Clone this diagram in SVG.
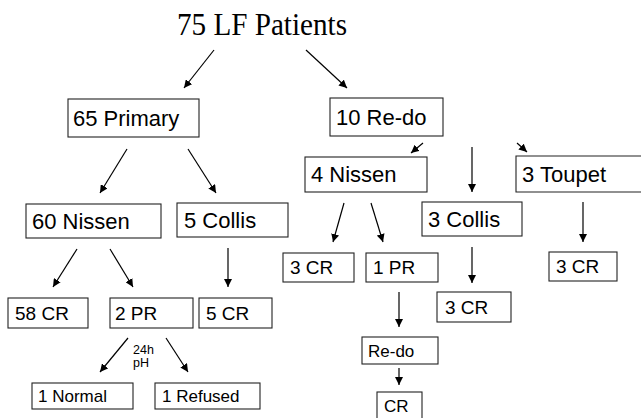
<svg xmlns="http://www.w3.org/2000/svg" width="641" height="418" viewBox="0 0 641 418">
<defs>
<marker id="ah" viewBox="0 0 10 10" refX="10" refY="5" markerWidth="8" markerHeight="8" markerUnits="userSpaceOnUse" orient="auto">
<path d="M0,0 L10,5 L0,10 z" fill="#000"/>
</marker>
</defs>
<style>
.box{fill:#fff;stroke:#222;stroke-width:1.1}
.t{font-family:"Liberation Sans",Arial,sans-serif;fill:#000}
.l{font-size:22px}
.m{font-size:19px}
.s{font-size:17px}
.c{stroke:#000;stroke-width:1.2;fill:none;marker-end:url(#ah)}
</style>
<rect width="641" height="418" fill="#fff"/>
<g id="title"><text x="262" y="35" text-anchor="middle" font-family="'Liberation Serif','Times New Roman',serif" font-size="32" textLength="170" lengthAdjust="spacingAndGlyphs">75 LF Patients</text></g>
<g id="primary"><rect class="box" x="68" y="99" width="131" height="38"/><text class="t l" x="73" y="126">65 Primary</text></g>
<g id="redo"><rect class="box" x="330" y="98" width="113" height="38"/><text class="t l" x="336" y="125">10 Re-do</text></g>
<g id="nissen60"><rect class="box" x="26" y="204" width="135" height="34"/><text class="t l" x="32" y="229">60 Nissen</text></g>
<g id="collis5"><rect class="box" x="177" y="203" width="111" height="34"/><text class="t l" x="184" y="228">5 Collis</text></g>
<g id="nissen4"><rect class="box" x="305" y="157" width="122" height="35"/><text class="t l" x="311" y="182">4 Nissen</text></g>
<g id="toupet3"><path class="box" d="M645,156 H516 V192 H645"/><text class="t l" x="522" y="182">3 Toupet</text></g>
<g id="collis3"><rect class="box" x="422" y="202" width="100" height="34"/><text class="t l" x="428" y="227">3 Collis</text></g>
<g id="cr58"><rect class="box" x="8" y="298" width="80" height="30"/><text class="t m" x="15" y="320">58 CR</text></g>
<g id="pr2"><rect class="box" x="110" y="298" width="83" height="30"/><text class="t m" x="115" y="320">2 PR</text></g>
<g id="cr5"><rect class="box" x="199" y="298" width="73" height="30"/><text class="t m" x="206" y="320">5 CR</text></g>
<g id="cr3a"><rect class="box" x="283" y="253" width="71" height="29"/><text class="t m" x="290" y="274">3 CR</text></g>
<g id="pr1"><rect class="box" x="366" y="253" width="72" height="29"/><text class="t m" x="373" y="274">1 PR</text></g>
<g id="cr3c"><rect class="box" x="549" y="252" width="68" height="29"/><text class="t m" x="556" y="273">3 CR</text></g>
<g id="cr3b"><rect class="box" x="437" y="292" width="74" height="30"/><text class="t m" x="445" y="314">3 CR</text></g>
<g id="normal1"><rect class="box" x="32" y="383" width="101" height="26"/><text class="t s" x="38" y="402">1 Normal</text></g>
<g id="refused1"><rect class="box" x="155" y="383" width="105" height="26"/><text class="t s" x="162" y="402">1 Refused</text></g>
<g id="redo2"><rect class="box" x="362" y="337" width="76" height="27"/><text class="t s" x="368" y="357">Re-do</text></g>
<g id="cr"><rect class="box" x="377" y="392" width="45" height="30"/><text class="t s" x="384" y="412">CR</text></g>
<g id="label24h"><text class="t" font-size="12.5" x="133" y="354">24h</text><text class="t" font-size="12.5" x="133" y="367">pH</text></g>
<g id="connectors">
<line class="c" x1="214" y1="50" x2="184" y2="88"/>
<line class="c" x1="306" y1="50" x2="347" y2="88"/>
<line class="c" x1="127" y1="149" x2="100" y2="193"/>
<line class="c" x1="188" y1="149" x2="216" y2="193"/>
<line class="c" x1="423" y1="143" x2="411" y2="153"/>
<line class="c" x1="472" y1="147" x2="472" y2="192"/>
<line class="c" x1="517" y1="143" x2="527" y2="152"/>
<line class="c" x1="344" y1="203" x2="333" y2="242"/>
<line class="c" x1="371" y1="203" x2="383" y2="242"/>
<line class="c" x1="472" y1="247" x2="472" y2="283"/>
<line class="c" x1="583" y1="202" x2="583" y2="242"/>
<line class="c" x1="77" y1="249" x2="53" y2="287"/>
<line class="c" x1="110" y1="249" x2="133" y2="287"/>
<line class="c" x1="228" y1="248" x2="228" y2="287"/>
<line class="c" x1="128" y1="338" x2="100" y2="372"/>
<line class="c" x1="166" y1="338" x2="188" y2="372"/>
<line class="c" x1="399" y1="292" x2="399" y2="327"/>
<line class="c" x1="399" y1="368" x2="399" y2="385"/>
</g>
</svg>
